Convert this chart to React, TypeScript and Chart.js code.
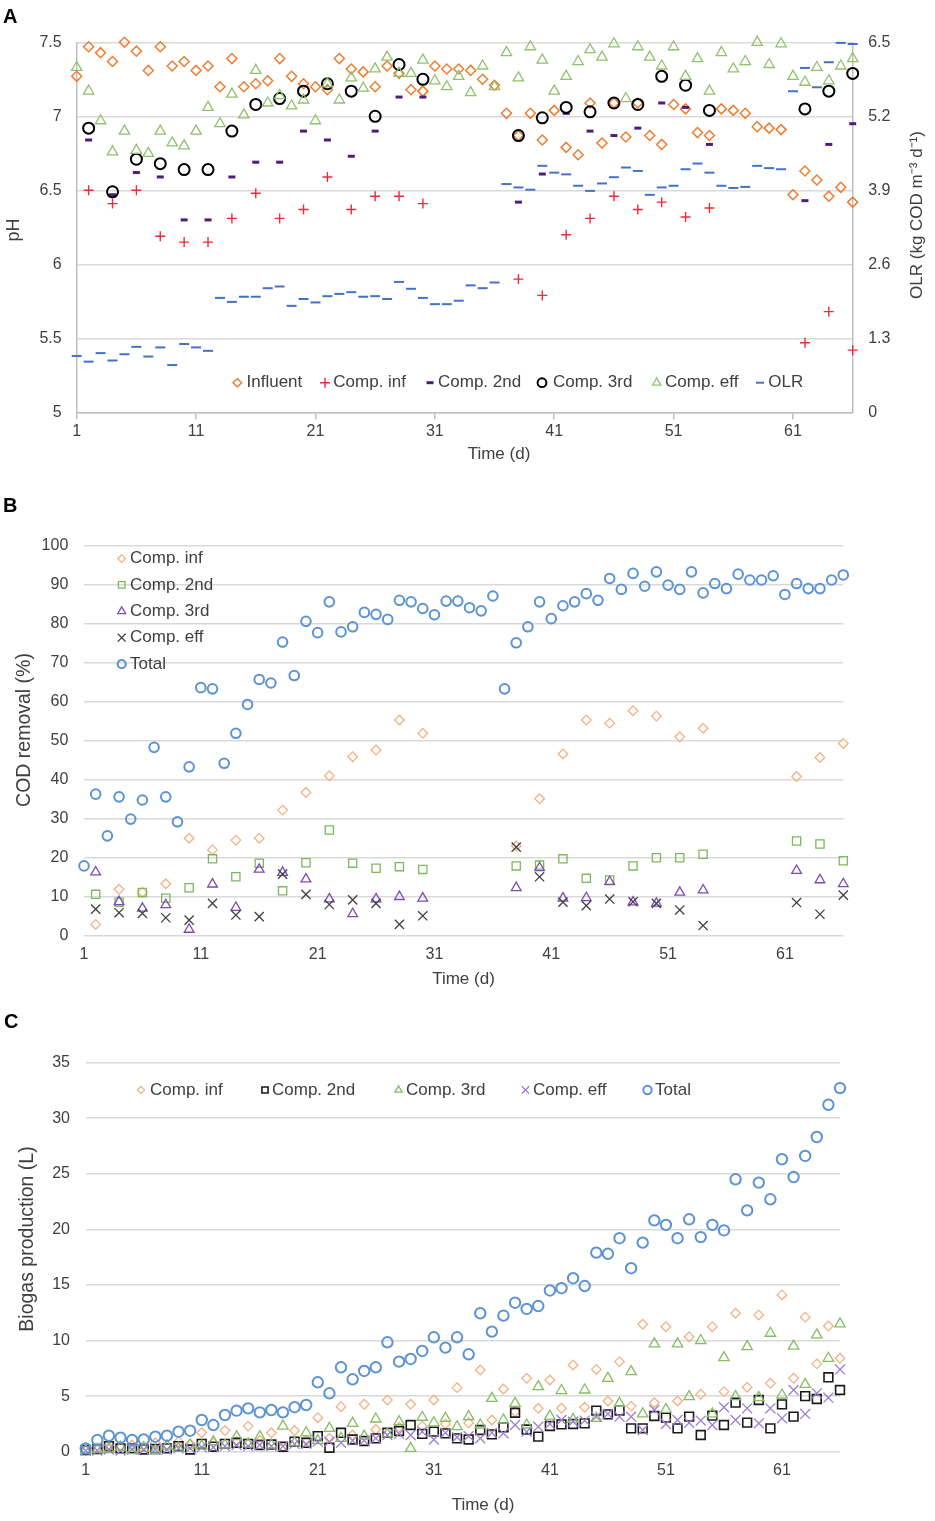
import React, { useEffect, useRef } from 'react';
import { Chart, registerables } from 'chart.js';
import { drawPoint } from 'chart.js/helpers';

Chart.register(...registerables);

const FONT = "'Liberation Sans', Arial, sans-serif";
const TEXT = '#404040';

// ---------- shared ----------
const X_TICKS = [1, 11, 21, 31, 41, 51, 61];
const DAYS = [
  1, 2, 3, 4, 5, 6, 7, 8, 9, 10, 11, 12, 13, 14, 15, 16, 17, 18, 19, 20, 21, 22,
  23, 24, 25, 26, 27, 28, 29, 30, 31, 32, 33, 34, 35, 36, 37, 38, 39, 40, 41, 42,
  43, 44, 45, 46, 47, 48, 49, 50, 51, 52, 53, 54, 55, 56, 57, 58, 59, 60, 61, 62,
  63, 64, 65, 66,
];
const COMP_DAYS = [
  2, 4, 6, 8, 10, 12, 14, 16, 18, 20, 22, 24, 26, 28, 30, 38, 40, 42, 44, 46, 48,
  50, 52, 54, 62, 64, 66,
];

// ---------- Panel A: pH and OLR ----------
const PH_TICKS = [5, 5.5, 6, 6.5, 7, 7.5];
const OLR_TICKS = [0, 1.3, 2.6, 3.9, 5.2, 6.5];
const influentPH = [
  7.27, 7.47, 7.43, 7.37, 7.5, 7.44, 7.31, 7.47, 7.34, 7.37,
  7.31, 7.34, 7.2, 7.39, 7.2, 7.22, 7.24, 7.39, 7.27, 7.22,
  7.2, 7.18, 7.39, 7.32, 7.3, 7.2, 7.34, 7.29, 7.18, 7.17,
  7.34, 7.32, 7.32, 7.31, 7.25, 7.21, 7.02, 6.87, 7.02, 6.84,
  7.04, 6.79, 6.74, 7.09, 6.82, 7.09, 6.86, 7.09, 6.87, 6.81,
  7.08, 7.05, 6.89, 6.87, 7.05, 7.04, 7.02, 6.93, 6.92, 6.91,
  6.47, 6.63, 6.57, 6.46, 6.52, 6.42,
];
const compInfPH = [
  6.5, 6.41, 6.5, 6.19, 6.15, 6.15, 6.31, 6.48, 6.31, 6.37, 6.59, 6.37, 6.46, 6.46, 6.41,
  5.9, 5.79, 6.2, 6.31, 6.46, 6.37, 6.42, 6.32, 6.38,
  5.47, 5.68, 5.42,
];
const comp2ndPH = [
  6.84, 6.47, 6.62, 6.59, 6.3, 6.3, 6.59, 6.69, 6.69, 6.9, 6.84, 6.73, 6.9, 7.13, 7.13,
  6.42, 6.61, 7.02, 6.9, 6.87, 6.92, 7.09, 7.06, 6.81,
  6.43, 6.81, 6.95,
];
const comp3rdPH = [
  6.92, 6.49, 6.71, 6.68, 6.64, 6.64, 6.9, 7.08, 7.12, 7.17, 7.22, 7.17, 7.0, 7.35, 7.25,
  6.87, 6.99, 7.06, 7.03, 7.09, 7.08, 7.27, 7.21, 7.04,
  7.05, 7.17, 7.29,
];
const compEffPH = [
  7.33, 7.17, 6.97, 6.76, 6.9, 6.77, 6.75, 6.9, 6.82, 6.8,
  6.9, 7.06, 6.95, 7.15, 7.01, 7.31, 7.09, 7.14, 7.07, 7.11,
  6.97, 7.22, 7.11, 7.26, 7.19, 7.32, 7.4, 7.29, 7.29, 7.38,
  7.24, 7.2, 7.27, 7.16, 7.34, 7.2, 7.43, 7.26, 7.47, 7.38,
  7.17, 7.27, 7.37, 7.45, 7.4, 7.49, 7.12, 7.47, 7.4, 7.34,
  7.47, 7.27, 7.39, 7.17, 7.43, 7.32, 7.37, 7.5, 7.35, 7.49,
  7.27, 7.23, 7.33, 7.24, 7.34, 7.39,
];
const olrValues = [
  0.99, 0.89, 1.04, 0.91, 1.02, 1.15, 0.98, 1.14, 0.83, 1.2,
  1.14, 1.08, 2.01, 1.94, 2.03, 2.03, 2.18, 2.21, 1.87, 1.99,
  1.93, 2.04, 2.08, 2.11, 2.03, 2.04, 1.99, 2.29, 2.17, 2.01,
  1.9, 1.9, 1.96, 2.23, 2.18, 2.28, 4.01, 3.95, 3.91, 4.33,
  4.21, 4.18, 3.98, 3.89, 4.02, 4.13, 4.3, 4.24, 3.82, 3.95,
  3.98, 4.27, 4.37, 4.21, 3.98, 3.94, 3.96, 4.33, 4.29, 4.27,
  5.64, 6.05, 5.71, 6.15, 6.49, 6.47,
];

// ---------- Panel B: COD removal (%) ----------
const totalRemoval = [
  17.9, 36.3, 25.6, 35.6, 29.9, 34.8, 48.3, 35.6, 29.2, 43.3,
  63.6, 63.3, 44.2, 51.9, 59.3, 65.7, 64.8, 75.3, 66.7, 80.6,
  77.7, 85.6, 77.9, 79.2, 82.9, 82.4, 81.1, 86.0, 85.6, 83.9,
  82.3, 85.8, 85.8, 84.1, 83.3, 87.1, 63.3, 75.1, 79.2, 85.6,
  81.3, 84.6, 85.6, 87.7, 86.0, 91.6, 88.8, 92.9, 89.6, 93.3,
  89.9, 88.8, 93.3, 87.9, 90.3, 89.0, 92.7, 91.2, 91.2, 92.3,
  87.5, 90.3, 89.0, 89.0, 91.2, 92.5,
];
const compInfRemoval = [
  2.9, 11.9, 11.1, 13.3, 25.0, 22.0, 24.5, 25.0, 32.2, 36.7, 41.0, 45.9, 47.6, 55.3, 51.9,
  23.0, 35.1, 46.6, 55.3, 54.5, 57.7, 56.3, 51.0, 53.2,
  40.8, 45.7, 49.3,
];
const comp2ndRemoval = [
  10.6, 8.6, 11.1, 9.6, 12.3, 19.7, 15.1, 18.6, 11.5, 18.7, 27.1, 18.6, 17.3, 17.7, 17.0,
  17.9, 18.1, 19.7, 14.7, 14.3, 17.9, 20.0, 20.0, 20.9,
  24.3, 23.5, 19.2,
];
const comp3rdRemoval = [
  16.3, 8.7, 7.0, 7.9, 1.6, 13.2, 7.2, 17.0, 16.2, 14.5, 9.4, 5.6, 9.4, 10.0, 9.6,
  12.3, 17.4, 9.6, 9.7, 13.8, 8.6, 8.3, 11.1, 11.7,
  16.7, 14.3, 13.3,
];
const compEffRemoval = [
  6.8, 5.9, 5.7, 4.6, 4.0, 8.3, 5.3, 4.9, 15.8, 10.6, 8.0, 9.2, 8.3, 2.9, 5.1,
  22.7, 15.1, 8.6, 7.7, 9.4, 8.7, 8.3, 6.6, 2.6,
  8.5, 5.5, 10.4,
];

// ---------- Panel C: Biogas production (L) ----------
const compInfBiogas = [
  0.1, 0.3, 0.4, 0.5, 0.6, 0.5, 0.8, 0.6, 0.9, 0.7,
  1.7, 0.8, 1.9, 0.9, 2.3, 1.0, 1.7, 0.4, 1.9, 1.0,
  3.06, 1.2, 4.05, 1.5, 4.26, 2.0, 4.65, 2.2, 4.26, 2.3,
  4.65, 2.5, 5.76, 2.6, 7.35, 2.85, 5.64, 3.6, 6.6, 3.9,
  6.45, 3.9, 7.8, 4.0, 7.4, 4.56, 8.1, 4.1, 11.46, 4.4,
  11.24, 4.56, 10.34, 5.16, 11.24, 5.4, 12.45, 5.8, 12.3, 6.15,
  14.1, 6.6, 12.1, 7.9, 11.3, 8.4,
];
const comp2ndBiogas = [
  0.15, 0.24, 0.5, 0.3, 0.3, 0.2, 0.24, 0.3, 0.5, 0.2,
  0.7, 0.45, 0.7, 0.8, 0.7, 0.6, 0.65, 0.45, 0.9, 0.8,
  1.4, 0.36, 1.7, 1.1, 0.96, 1.2, 1.7, 1.86, 2.4, 1.6,
  1.8, 1.65, 1.2, 1.1, 1.95, 1.56, 2.19, 3.5, 2.0, 1.35,
  2.31, 2.46, 2.49, 2.55, 3.69, 3.36, 3.69, 2.1, 2.1, 3.21,
  3.06, 2.1, 3.15, 1.5, 3.24, 2.4, 4.41, 2.61, 4.65, 2.1,
  4.26, 3.15, 5.0, 4.74, 6.69, 5.55,
];
const comp3rdBiogas = [
  0.1, 0.2, 0.2, 0.4, 0.1, 0.3, 0.1, 0.5, 0.3, 0.6,
  0.5, 0.9, 0.6, 1.35, 0.7, 1.35, 0.6, 2.3, 0.8, 1.7,
  1.0, 2.1, 1.2, 2.55, 1.4, 2.94, 1.6, 2.7, 0.3, 3.1,
  2.6, 3.0, 2.25, 3.15, 2.4, 4.8, 2.85, 4.35, 2.4, 5.85,
  3.2, 5.5, 2.9, 5.55, 3.0, 6.6, 4.35, 7.2, 3.4, 9.7,
  3.8, 9.7, 4.95, 10.0, 3.4, 8.46, 4.95, 9.45, 4.86, 10.65,
  5.1, 9.5, 6.06, 10.5, 8.4, 11.5,
];
const compEffBiogas = [
  0.1, 0.1, 0.2, 0.1, 0.2, 0.2, 0.2, 0.2, 0.3, 0.3,
  0.4, 0.4, 0.5, 0.6, 0.5, 0.6, 0.5, 0.5, 0.7, 0.7,
  0.9, 0.9, 0.8, 1.0, 1.0, 1.2, 1.5, 1.6, 1.5, 1.8,
  1.1, 1.7, 1.3, 1.4, 1.2, 1.7, 1.65, 2.4, 1.8, 2.25,
  2.5, 2.85, 2.7, 2.8, 3.15, 3.4, 3.15, 3.15, 1.95, 3.75,
  2.49, 2.85, 2.6, 2.8, 2.4, 4.0, 2.85, 3.9, 2.55, 3.9,
  3.0, 5.55, 3.4, 5.25, 4.86, 7.4,
];
const totalBiogas = [
  0.3, 1.05, 1.44, 1.26, 1.05, 1.1, 1.35, 1.44, 1.8, 1.89,
  2.85, 2.4, 3.3, 3.69, 3.9, 3.54, 3.75, 3.54, 4.0, 4.2,
  6.24, 5.25, 7.59, 6.51, 7.26, 7.59, 9.84, 8.1, 8.34, 9.06,
  10.29, 9.36, 10.29, 8.76, 12.45, 10.8, 12.24, 13.4, 12.84, 13.1,
  14.5, 14.7, 15.6, 14.9, 17.9, 17.8, 19.2, 16.5, 18.8, 20.8,
  20.4, 19.2, 20.9, 19.3, 20.4, 19.9, 24.5, 21.7, 24.2, 22.7,
  26.3, 24.7, 26.6, 28.3, 31.2, 32.7,
];

// ---------- helpers ----------
const pts = (xs: number[], ys: number[]) => xs.map((x, i) => ({ x, y: ys[i] }));

type Mk = { style: string; color: string; r: number; bw: number };

function ds(label: string, xs: number[], ys: number[], mk: Mk, extra: any = {}) {
  return {
    label,
    data: pts(xs, ys),
    pointStyle: mk.style,
    pointRadius: mk.r,
    pointHoverRadius: mk.r,
    pointBorderWidth: mk.bw,
    borderColor: mk.color,
    pointBorderColor: mk.color,
    backgroundColor: 'rgba(0,0,0,0)',
    pointBackgroundColor: 'rgba(0,0,0,0)',
    showLine: false,
    clip: false,
    ...extra,
  };
}

type LegendSpec = { label: string; mk: Mk; mx: number; tx: number; y: number };
type TitleSpec = { text: string; x: number; y: number; rot?: boolean; size?: number };

function overlay(legend: LegendSpec[], titles: TitleSpec[]) {
  return {
    id: 'overlay',
    afterDraw(chart: any) {
      const ctx: CanvasRenderingContext2D = chart.ctx;
      ctx.save();
      for (const it of legend) {
        ctx.strokeStyle = it.mk.color;
        ctx.fillStyle = 'rgba(0,0,0,0)';
        ctx.lineWidth = it.mk.bw;
        drawPoint(ctx, { pointStyle: it.mk.style, radius: it.mk.r, borderWidth: it.mk.bw, rotation: 0 } as any, it.mx, it.y);
        ctx.fillStyle = TEXT;
        ctx.font = `17px ${FONT}`;
        ctx.textAlign = 'left';
        ctx.textBaseline = 'middle';
        ctx.fillText(it.label, it.tx, it.y);
      }
      for (const t of titles) {
        ctx.save();
        ctx.fillStyle = TEXT;
        ctx.font = `${t.size || 17}px ${FONT}`;
        ctx.textAlign = 'center';
        ctx.textBaseline = 'middle';
        ctx.translate(t.x, t.y);
        if (t.rot) ctx.rotate(-Math.PI / 2);
        ctx.fillText(t.text, 0, 0);
        ctx.restore();
      }
      ctx.restore();
    },
  };
}

const tickFont = { family: FONT, size: 16 };

function xScale(height: number, drawTicks: boolean, padding: number) {
  return {
    type: 'linear',
    min: 1,
    max: 66,
    afterBuildTicks: (s: any) => {
      s.ticks = X_TICKS.map((v) => ({ value: v }));
    },
    afterFit: (s: any) => {
      s.height = height;
    },
    grid: drawTicks
      ? { display: true, drawOnChartArea: false, drawTicks: true, tickLength: 7, color: '#bfbfbf', lineWidth: 1.5 }
      : { display: false, drawTicks: false },
    border: drawTicks ? { display: true, color: '#bfbfbf', width: 1.5 } : { display: false },
    ticks: { font: tickFont, color: TEXT, padding, maxRotation: 0, callback: (v: any) => String(v) },
  };
}

// ---------- Markers ----------
const A_MK = {
  influent: { style: 'rectRot', color: '#ED7D31', r: 5, bw: 1.5 },
  inf: { style: 'cross', color: '#EE2B3B', r: 5, bw: 1.4 },
  c2: { style: 'line', color: '#4B1E7C', r: 3.5, bw: 3 },
  c3: { style: 'circle', color: '#000000', r: 5.5, bw: 2 },
  eff: { style: 'triangle', color: '#92C06E', r: 6, bw: 1.3 },
  olr: { style: 'line', color: '#4472C4', r: 5, bw: 2 },
};
const B_MK = {
  inf: { style: 'rectRot', color: '#F4B183', r: 4.8, bw: 1.3 },
  c2: { style: 'rect', color: '#7DB85A', r: 5.8, bw: 1.3 },
  c3: { style: 'triangle', color: '#7E4BB5', r: 5.6, bw: 1.3 },
  eff: { style: 'crossRot', color: '#404040', r: 6.5, bw: 1.3 },
  total: { style: 'circle', color: '#5B93D3', r: 4.8, bw: 2 },
};
const C_MK = {
  inf: { style: 'rectRot', color: '#F4B183', r: 4.8, bw: 1.3 },
  c2: { style: 'rect', color: '#1a1a1a', r: 6.2, bw: 1.6 },
  c3: { style: 'triangle', color: '#86BD62', r: 6, bw: 1.3 },
  eff: { style: 'crossRot', color: '#9B7FD0', r: 7, bw: 1.3 },
  total: { style: 'circle', color: '#5B93D3', r: 5.2, bw: 2 },
};
const small = (m: Mk, f: number) => ({ ...m, r: m.r * f });

function withOrder(list: any[]) {
  const n = list.length;
  return list.map((d, i) => ({ ...d, order: n - i }));
}

function makeA(canvas: HTMLCanvasElement) {
  const datasets = withOrder([
    ds('Influent', DAYS, influentPH, A_MK.influent),
    ds('Comp. inf', COMP_DAYS, compInfPH, A_MK.inf),
    ds('Comp. 2nd', COMP_DAYS, comp2ndPH, A_MK.c2),
    ds('Comp. 3rd', COMP_DAYS, comp3rdPH, A_MK.c3),
    ds('Comp. eff', DAYS, compEffPH, A_MK.eff),
    ds('OLR', DAYS, olrValues, A_MK.olr, { yAxisID: 'y2' }),
  ]);
  const ly = 382.7;
  const legend: LegendSpec[] = [
    { label: 'Influent', mk: small(A_MK.influent, 0.85), mx: 237.3, tx: 246.5, y: ly },
    { label: 'Comp. inf', mk: A_MK.inf, mx: 325, tx: 333.3, y: ly },
    { label: 'Comp. 2nd', mk: A_MK.c2, mx: 430, tx: 438, y: ly },
    { label: 'Comp. 3rd', mk: small(A_MK.c3, 0.8), mx: 542, tx: 553, y: ly },
    { label: 'Comp. eff', mk: small(A_MK.eff, 0.8), mx: 656.7, tx: 665, y: ly },
    { label: 'OLR', mk: small(A_MK.olr, 0.8), mx: 760, tx: 768.3, y: ly },
  ];
  const titles: TitleSpec[] = [
    { text: 'Time (d)', x: 499, y: 454.5 },
    { text: 'pH', x: 14, y: 230, rot: true, size: 18 },
    { text: 'OLR (kg COD m\u207B\u00B3 d\u207B\u00B9)', x: 917.5, y: 215, rot: true },
  ];
  return new Chart(canvas, {
    type: 'scatter',
    data: { datasets },
    options: {
      animation: false,
      responsive: false,
      maintainAspectRatio: false,
      layout: { padding: { top: 42.3, left: 0, right: 0, bottom: 0 } },
      plugins: { legend: { display: false }, tooltip: { enabled: false } },
      scales: {
        x: xScale(57.7, true, 3),
        y: {
          type: 'linear',
          position: 'left',
          min: 5,
          max: 7.5,
          afterBuildTicks: (s: any) => {
            s.ticks = PH_TICKS.map((v) => ({ value: v }));
          },
          afterFit: (s: any) => {
            s.width = 76.7;
          },
          grid: { color: '#d9d9d9', lineWidth: 1.5, drawTicks: false },
          border: { display: true, color: '#bfbfbf', width: 1.5 },
          ticks: { font: tickFont, color: TEXT, padding: 15, callback: (v: any) => String(v) },
        },
        y2: {
          type: 'linear',
          position: 'right',
          min: 0,
          max: 6.5,
          afterBuildTicks: (s: any) => {
            s.ticks = OLR_TICKS.map((v) => ({ value: v }));
          },
          afterFit: (s: any) => {
            s.width = 82.3;
          },
          grid: { drawOnChartArea: false, drawTicks: false },
          border: { display: true, color: '#bfbfbf', width: 1.5 },
          ticks: {
            font: tickFont,
            color: TEXT,
            padding: 15.5,
            callback: (v: any) => (v === 0 ? '0' : Number(v).toFixed(1)),
          },
        },
      },
    } as any,
    plugins: [overlay(legend, titles) as any],
  });
}

function makeB(canvas: HTMLCanvasElement) {
  const datasets = withOrder([
    ds('Comp. inf', COMP_DAYS, compInfRemoval, B_MK.inf),
    ds('Comp. 2nd', COMP_DAYS, comp2ndRemoval, B_MK.c2),
    ds('Comp. 3rd', COMP_DAYS, comp3rdRemoval, B_MK.c3),
    ds('Comp. eff', COMP_DAYS, compEffRemoval, B_MK.eff),
    ds('Total', DAYS, totalRemoval, B_MK.total),
  ]);
  const rows = [78.5, 104.9, 131.3, 157.7, 184.1];
  const legend: LegendSpec[] = [
    { label: 'Comp. inf', mk: small(B_MK.inf, 0.8), mx: 121.7, tx: 130, y: rows[0] },
    { label: 'Comp. 2nd', mk: small(B_MK.c2, 0.8), mx: 121.7, tx: 130, y: rows[1] },
    { label: 'Comp. 3rd', mk: small(B_MK.c3, 0.8), mx: 121.7, tx: 130, y: rows[2] },
    { label: 'Comp. eff', mk: small(B_MK.eff, 0.85), mx: 121.7, tx: 130, y: rows[3] },
    { label: 'Total', mk: small(B_MK.total, 0.85), mx: 121.7, tx: 130, y: rows[4] },
  ];
  const titles: TitleSpec[] = [
    { text: 'Time (d)', x: 463.5, y: 499 },
    { text: 'COD removal (%)', x: 25, y: 250, rot: true, size: 19.5 },
  ];
  return new Chart(canvas, {
    type: 'scatter',
    data: { datasets },
    options: {
      animation: false,
      responsive: false,
      maintainAspectRatio: false,
      layout: { padding: { top: 65.7, left: 0, right: 91.7, bottom: 0 } },
      plugins: { legend: { display: false }, tooltip: { enabled: false } },
      scales: {
        x: xScale(64.3, false, 9.7),
        y: {
          type: 'linear',
          min: 0,
          max: 100,
          ticks: { stepSize: 10, font: tickFont, color: TEXT, padding: 15.7 },
          afterFit: (s: any) => {
            s.width = 84;
          },
          grid: { color: '#d9d9d9', lineWidth: 1.5, drawTicks: false },
          border: { display: false },
        },
      },
    } as any,
    plugins: [overlay(legend, titles) as any],
  });
}

function makeC(canvas: HTMLCanvasElement) {
  const datasets = withOrder([
    ds('Comp. inf', DAYS, compInfBiogas, C_MK.inf),
    ds('Comp. 2nd', DAYS, comp2ndBiogas, C_MK.c2),
    ds('Comp. 3rd', DAYS, comp3rdBiogas, C_MK.c3),
    ds('Comp. eff', DAYS, compEffBiogas, C_MK.eff),
    ds('Total', DAYS, totalBiogas, C_MK.total),
  ]);
  const ly = 90;
  const legend: LegendSpec[] = [
    { label: 'Comp. inf', mk: small(C_MK.inf, 0.75), mx: 141, tx: 150, y: ly },
    { label: 'Comp. 2nd', mk: small(C_MK.c2, 0.7), mx: 265, tx: 272, y: ly },
    { label: 'Comp. 3rd', mk: small(C_MK.c3, 0.7), mx: 398.5, tx: 406, y: ly },
    { label: 'Comp. eff', mk: small(C_MK.eff, 0.75), mx: 525.5, tx: 533, y: ly },
    { label: 'Total', mk: small(C_MK.total, 0.8), mx: 647.5, tx: 655, y: ly },
  ];
  const titles: TitleSpec[] = [
    { text: 'Time (d)', x: 483, y: 505 },
    { text: 'Biogas production (L)', x: 27.5, y: 239, rot: true, size: 19.5 },
  ];
  return new Chart(canvas, {
    type: 'scatter',
    data: { datasets },
    options: {
      animation: false,
      responsive: false,
      maintainAspectRatio: false,
      layout: { padding: { top: 62.5, left: 0, right: 95, bottom: 0 } },
      plugins: { legend: { display: false }, tooltip: { enabled: false } },
      scales: {
        x: xScale(69.3, false, 9.7),
        y: {
          type: 'linear',
          min: 0,
          max: 35,
          ticks: { stepSize: 5, font: tickFont, color: TEXT, padding: 15.7 },
          afterFit: (s: any) => {
            s.width = 85.7;
          },
          grid: { color: '#d9d9d9', lineWidth: 1.5, drawTicks: false },
          border: { display: false },
        },
      },
    } as any,
    plugins: [overlay(legend, titles) as any],
  });
}

const letterStyle = (left: number, top: number): React.CSSProperties => ({
  position: 'absolute',
  left,
  top,
  fontFamily: FONT,
  fontWeight: 'bold',
  fontSize: 20,
  lineHeight: '20px',
  color: '#000',
});

export default function App() {
  const refA = useRef<HTMLCanvasElement>(null);
  const refB = useRef<HTMLCanvasElement>(null);
  const refC = useRef<HTMLCanvasElement>(null);

  useEffect(() => {
    const charts = [makeA(refA.current!), makeB(refB.current!), makeC(refC.current!)];
    return () => charts.forEach((c) => c.destroy());
  }, []);

  return (
    <div style={{ position: 'absolute', left: 0, top: 0, width: 935, height: 1521, background: '#fff', overflow: 'hidden' }}>
      <canvas ref={refA} width={935} height={470} style={{ position: 'absolute', left: 0, top: 0, width: 935, height: 470 }} />
      <canvas ref={refB} width={935} height={520} style={{ position: 'absolute', left: 0, top: 480, width: 935, height: 520 }} />
      <canvas ref={refC} width={935} height={521} style={{ position: 'absolute', left: 0, top: 1000, width: 935, height: 521 }} />
      <div style={letterStyle(3, 5.5)}>A</div>
      <div style={letterStyle(3, 494.5)}>B</div>
      <div style={letterStyle(4, 1011)}>C</div>
    </div>
  );
}
